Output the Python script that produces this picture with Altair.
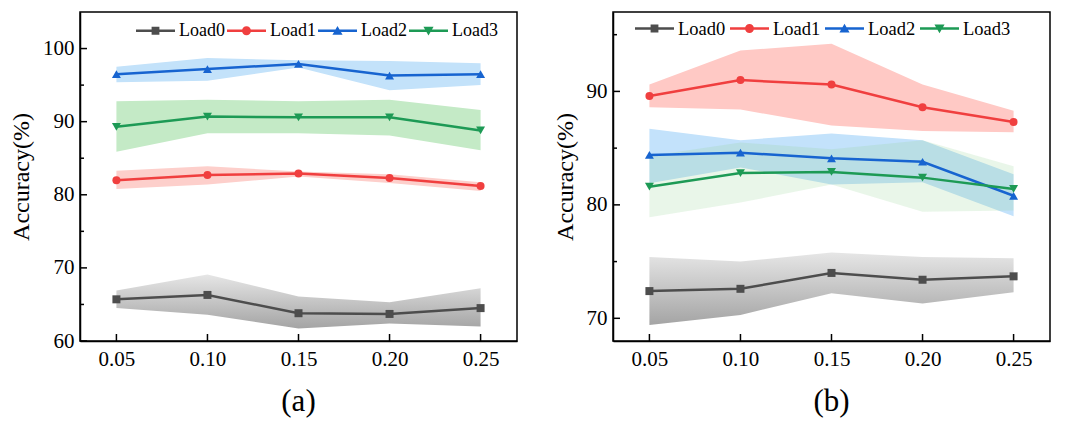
import altair as alt
import pandas as pd

FONT = "Liberation Serif"

x_vals = [0.05, 0.10, 0.15, 0.20, 0.25]
series = ["Load0", "Load1", "Load2", "Load3"]

# ---- panel (a) ----
a_load0 = [65.7, 66.3, 63.8, 63.7, 64.5]
a_load0_lo = [64.5, 63.6, 61.7, 62.4, 62.0]
a_load0_hi = [66.9, 69.1, 66.1, 65.3, 67.2]
a_load1 = [82.0, 82.7, 82.9, 82.3, 81.2]
a_load1_lo = [80.8, 81.4, 82.5, 81.6, 80.5]
a_load1_hi = [83.3, 83.9, 83.2, 82.8, 81.7]
a_load2 = [96.5, 97.2, 97.9, 96.3, 96.5]
a_load2_lo = [95.4, 95.6, 97.4, 94.3, 95.0]
a_load2_hi = [97.5, 98.7, 98.4, 98.3, 98.0]
a_load3 = [89.3, 90.7, 90.6, 90.6, 88.8]
a_load3_lo = [85.9, 88.4, 88.4, 88.1, 86.1]
a_load3_hi = [92.8, 93.0, 92.8, 93.0, 91.6]

# ---- panel (b) ----
b_load0 = [72.4, 72.6, 74.0, 73.4, 73.7]
b_load0_lo = [69.4, 70.3, 72.2, 71.3, 72.3]
b_load0_hi = [75.4, 75.0, 75.8, 75.4, 75.3]
b_load1 = [89.6, 91.0, 90.6, 88.6, 87.3]
b_load1_lo = [88.6, 88.4, 87.0, 86.5, 86.4]
b_load1_hi = [90.6, 93.6, 94.2, 90.6, 88.3]
b_load2 = [84.4, 84.6, 84.1, 83.8, 80.8]
b_load2_lo = [81.9, 83.3, 81.8, 82.0, 79.0]
b_load2_hi = [86.7, 85.7, 86.3, 85.7, 82.7]
b_load3 = [81.6, 82.8, 82.9, 82.4, 81.4]
b_load3_lo = [78.9, 80.2, 81.8, 79.4, 79.5]
b_load3_hi = [84.3, 85.5, 84.9, 85.7, 83.4]

a_major = [60, 70, 80, 90, 100]
a_minor = [65, 75, 85, 95]
b_major = [70, 80, 90]
b_minor = [75, 85, 95]

line_colors = {"Load0": "#4d4d4d", "Load1": "#f03f3f", "Load2": "#1764d0", "Load3": "#1d9a55"}
shapes = {"Load0": "square", "Load1": "circle", "Load2": "triangle-up", "Load3": "triangle-down"}
legend_paths = [
    "M-1,-0.065H1V0.065H-1Z M-0.2,-0.2H0.2V0.2H-0.2Z",
    "M-1,-0.065H1V0.065H-1Z M0.23,0A0.23,0.23,0,1,1,-0.23,0A0.23,0.23,0,1,1,0.23,0Z",
    "M-1,-0.065H1V0.065H-1Z M0,-0.24L0.26,0.2H-0.26Z",
    "M-1,-0.065H1V0.065H-1Z M0,0.24L-0.26,-0.2H0.26Z",
]

gray_grad = alt.Gradient(
    gradient="linear",
    stops=[alt.GradientStop(color="#e6e6e6", offset=0), alt.GradientStop(color="#a4a4a4", offset=1)],
    x1=0, x2=0, y1=0, y2=1,
)


def frame(mean, lo, hi):
    rows = []
    for s, m, l, h in zip(series, mean, lo, hi):
        for x, mv, lv, hv in zip(x_vals, m, l, h):
            rows.append({"x": x, "series": s, "mean": mv, "lo": lv, "hi": hv})
    return pd.DataFrame(rows)


df_a = frame([a_load0, a_load1, a_load2, a_load3],
             [a_load0_lo, a_load1_lo, a_load2_lo, a_load3_lo],
             [a_load0_hi, a_load1_hi, a_load2_hi, a_load3_hi])
df_b = frame([b_load0, b_load1, b_load2, b_load3],
             [b_load0_lo, b_load1_lo, b_load2_lo, b_load3_lo],
             [b_load0_hi, b_load1_hi, b_load2_hi, b_load3_hi])

W, H = 437, 329


def panel(df, ydom, major, minor, band_col, band_op, title, lx, ly, lfs, lcp):
    xscale = alt.Scale(domain=[0.03, 0.27], nice=False, zero=False)
    yscale = alt.Scale(domain=ydom, nice=False, zero=False)
    xaxis = alt.Axis(values=x_vals, format=".2f", ticks=False, grid=False, title=None,
                     labelFont=FONT, labelFontSize=21, labelColor="black", labelPadding=7,
                     domainColor="black", domainWidth=1.5, labelFlush=False)
    yaxis = alt.Axis(values=major, ticks=False, grid=False, title="Accuracy(%)",
                     titleFont=FONT, titleFontSize=24, titleFontWeight="normal", titleColor="black",
                     titlePadding=9, labelFont=FONT, labelFontSize=21, labelColor="black",
                     labelPadding=6, domainColor="black", domainWidth=1.5)
    X = alt.X("x:Q", scale=xscale, axis=xaxis)
    layers = []
    for s in series:
        d = df[df.series == s]
        fill = gray_grad if s == "Load0" else band_col[s]
        layers.append(
            alt.Chart(d).mark_area(color=fill, opacity=band_op[s]).encode(
                x=X, y=alt.Y("lo:Q", scale=yscale, axis=yaxis), y2="hi:Q")
        )
    for s in series:
        d = df[df.series == s]
        base = alt.Chart(d).encode(x=X, y=alt.Y("mean:Q", scale=yscale, axis=yaxis))
        layers.append(base.mark_line(color=line_colors[s], strokeWidth=2.5))
        layers.append(base.mark_point(filled=True, color=line_colors[s], opacity=1,
                                      shape=shapes[s], size=80 if "triangle" in shapes[s] else 64))
    # inside ticks
    layers.append(alt.Chart(pd.DataFrame({"v": major})).mark_rule(color="black", strokeWidth=1.5).encode(
        y=alt.Y("v:Q", scale=yscale, axis=yaxis), x=alt.value(0), x2=alt.value(7)))
    layers.append(alt.Chart(pd.DataFrame({"v": minor})).mark_rule(color="black", strokeWidth=1.5).encode(
        y=alt.Y("v:Q", scale=yscale, axis=yaxis), x=alt.value(0), x2=alt.value(4)))
    layers.append(alt.Chart(pd.DataFrame({"v": x_vals})).mark_rule(color="black", strokeWidth=1.5).encode(
        x=alt.X("v:Q", scale=xscale, axis=xaxis), y=alt.value(H), y2=alt.value(H - 7)))
    # legend-only layer
    leg = alt.Legend(orient="none", direction="horizontal", legendX=lx, legendY=ly, title=None,
                     labelFont=FONT, labelFontSize=lfs, labelColor="black", labelOffset=4,
                     columnPadding=lcp, symbolSize=1521, symbolStrokeWidth=0, symbolOpacity=1,
                     padding=0)
    layers.append(
        alt.Chart(pd.DataFrame({"series": series})).transform_filter("false")
        .mark_point(filled=True, opacity=1).encode(
            color=alt.Color("series:N", scale=alt.Scale(domain=series, range=[line_colors[s] for s in series]), legend=leg),
            shape=alt.Shape("series:N", scale=alt.Scale(domain=series, range=legend_paths), legend=leg),
        )
    )
    return alt.layer(*layers).properties(
        width=W, height=H,
        title=alt.TitleParams(title, orient="bottom", font=FONT, fontSize=31, fontWeight="normal",
                              color="black", offset=18, frame="group"),
    )


band_a = {"Load0": None, "Load1": "#fdcfcb", "Load2": "#c3e2fa", "Load3": "#c4eac6"}
op_a = {"Load0": 1, "Load1": 1, "Load2": 1, "Load3": 1}
band_b = {"Load0": None, "Load1": "#ffc9c5", "Load2": "#c3e2fb", "Load3": "#93d493"}
op_b = {"Load0": 1, "Load1": 1, "Load2": 1, "Load3": 0.2}

pa = panel(df_a, [60, 105], a_major, a_minor, band_a, op_a, "(a)", 56, -1, 18, 2)
pb = panel(df_b, [68, 97], b_major, b_minor, band_b, op_b, "(b)", 22, -3, 18.5, 4)

chart = alt.hconcat(pa, pb, spacing=34).resolve_scale(
    color="independent", shape="independent"
).resolve_legend(color="independent", shape="independent").properties(
    padding={"left": 0, "top": 0, "right": 5, "bottom": 0}, background="white"
).configure_view(stroke="black", strokeWidth=1.5)

chart.save("out.html", embed_options={"renderer": "svg", "actions": False})
